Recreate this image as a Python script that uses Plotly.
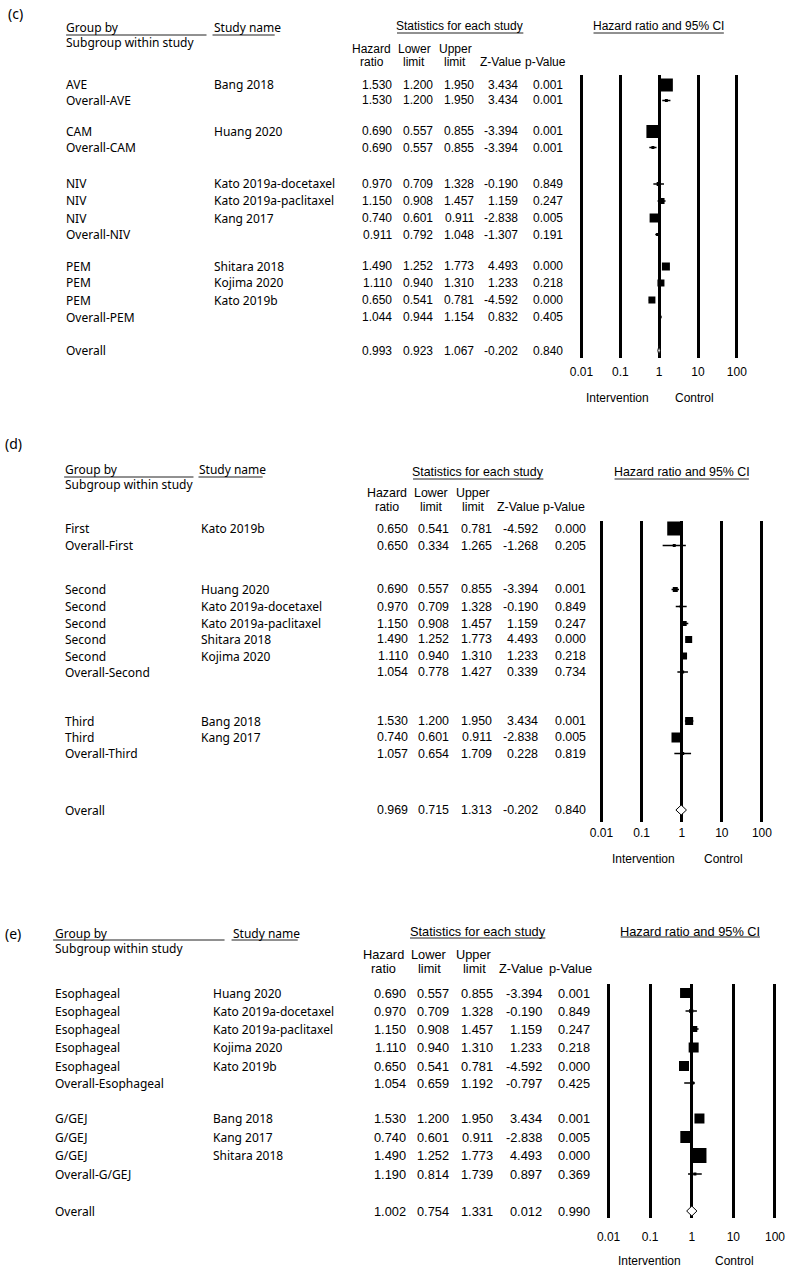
import plotly.graph_objects as go

W, H = 789, 1278

# ---------------- data ----------------
# Panel (c): grouped by agent
groups_c = ["AVE", "Overall-AVE", "CAM", "Overall-CAM", "NIV", "NIV", "NIV", "Overall-NIV",
            "PEM", "PEM", "PEM", "Overall-PEM", "Overall"]
studies_c = ["Bang 2018", "", "Huang 2020", "", "Kato 2019a-docetaxel", "Kato 2019a-paclitaxel",
             "Kang 2017", "", "Shitara 2018", "Kojima 2020", "Kato 2019b", "", ""]
hr_c = [1.530, 1.530, 0.690, 0.690, 0.970, 1.150, 0.740, 0.911, 1.490, 1.110, 0.650, 1.044, 0.993]
lo_c = [1.200, 1.200, 0.557, 0.557, 0.709, 0.908, 0.601, 0.792, 1.252, 0.940, 0.541, 0.944, 0.923]
hi_c = [1.950, 1.950, 0.855, 0.855, 1.328, 1.457, 0.911, 1.048, 1.773, 1.310, 0.781, 1.154, 1.067]
z_c = [3.434, 3.434, -3.394, -3.394, -0.190, 1.159, -2.838, -1.307, 4.493, 1.233, -4.592, 0.832, -0.202]
p_c = [0.001, 0.001, 0.001, 0.001, 0.849, 0.247, 0.005, 0.191, 0.000, 0.218, 0.000, 0.405, 0.840]
weight_c = [13, None, 13, None, 4, 6, 9, None, 8, 7, 7, None, None]

# Panel (d): grouped by line of therapy
groups_d = ["First", "Overall-First", "Second", "Second", "Second", "Second", "Second",
            "Overall-Second", "Third", "Third", "Overall-Third", "Overall"]
studies_d = ["Kato 2019b", "", "Huang 2020", "Kato 2019a-docetaxel", "Kato 2019a-paclitaxel",
             "Shitara 2018", "Kojima 2020", "", "Bang 2018", "Kang 2017", "", ""]
hr_d = [0.650, 0.650, 0.690, 0.970, 1.150, 1.490, 1.110, 1.054, 1.530, 0.740, 1.057, 0.969]
lo_d = [0.541, 0.334, 0.557, 0.709, 0.908, 1.252, 0.940, 0.778, 1.200, 0.601, 0.654, 0.715]
hi_d = [0.781, 1.265, 0.855, 1.328, 1.457, 1.773, 1.310, 1.427, 1.950, 0.911, 1.709, 1.313]
z_d = [-4.592, -1.268, -3.394, -0.190, 1.159, 4.493, 1.233, 0.339, 3.434, -2.838, 0.228, -0.202]
p_d = [0.000, 0.205, 0.001, 0.849, 0.247, 0.000, 0.218, 0.734, 0.001, 0.005, 0.819, 0.840]
weight_d = [14, None, 5, 3, 5, 7, 7, None, 8, 10, None, None]

# Panel (e): grouped by tumour site
groups_e = ["Esophageal", "Esophageal", "Esophageal", "Esophageal", "Esophageal",
            "Overall-Esophageal", "G/GEJ", "G/GEJ", "G/GEJ", "Overall-G/GEJ", "Overall"]
studies_e = ["Huang 2020", "Kato 2019a-docetaxel", "Kato 2019a-paclitaxel", "Kojima 2020",
             "Kato 2019b", "", "Bang 2018", "Kang 2017", "Shitara 2018", "", ""]
hr_e = [0.690, 0.970, 1.150, 1.110, 0.650, 1.054, 1.530, 0.740, 1.490, 1.190, 1.002]
lo_e = [0.557, 0.709, 0.908, 0.940, 0.541, 0.659, 1.200, 0.601, 1.252, 0.814, 0.754]
hi_e = [0.855, 1.328, 1.457, 1.310, 0.781, 1.192, 1.950, 0.911, 1.773, 1.739, 1.331]
z_e = [-3.394, -0.190, 1.159, 1.233, -4.592, -0.797, 3.434, -2.838, 4.493, 0.897, 0.012]
p_e = [0.001, 0.849, 0.247, 0.218, 0.000, 0.425, 0.001, 0.005, 0.000, 0.369, 0.990]
weight_e = [10, 4, 6, 10, 10, None, 10, 12, 15, None, None]

axis_ticks = [0.01, 0.1, 1, 10, 100]
axis_ticktext = ["0.01", "0.1", "1", "10", "100"]
col_head1 = ["Hazard", "Lower", "Upper", "", ""]
col_head2 = ["ratio", "limit", "limit", "Z-Value", "p-Value"]

# ---------------- layout constants (pixels) ----------------
panels = [
    dict(letter="(c)", groups=groups_c, studies=studies_c, hr=hr_c, lo=lo_c, hi=hi_c, z=z_c, p=p_c, w=weight_c,
         rows=[85, 100.5, 131.5, 147.5, 184, 201, 218, 234.5, 266.5, 283, 300, 317, 350.5],
         letter_xy=(7, 13), label_x=65, study_x=212, gb_y=28, sub_y=42, gb_line=(66, 206, 35),
         st_line=(212, 274, 35),
         col_right=[392, 433, 474, 518, 563], col_center=[371, 413, 454, 499, 544], h1=49, h2=62,
         stats=(458, 26, 396, 522, 33), citl=(657, 26, 592, 722, 33),
         forest=(580, 735), grid=(75, 358), tick_y=372, leg_y=398, leg_x=(616, 693), fs=12),
    dict(letter="(d)", groups=groups_d, studies=studies_d, hr=hr_d, lo=lo_d, hi=hi_d, z=z_d, p=p_d, w=weight_d,
         rows=[528.5, 545.5, 589.5, 606.5, 623.5, 639.5, 656, 672, 721, 737.5, 753.5, 810],
         letter_xy=(4, 443), label_x=64, study_x=200, gb_y=469.5, sub_y=484.5, gb_line=(64, 193, 477),
         st_line=(198, 262, 477),
         col_right=[408, 449, 492, 538, 586], col_center=[386, 430, 472, 517, 563], h1=493, h2=507,
         stats=(477, 472, 412, 542, 479), citl=(680, 472, 613, 747, 479),
         forest=(600, 760), grid=(521, 822), tick_y=833, leg_y=859, leg_x=(642, 722), fs=12.4),
    dict(letter="(e)", groups=groups_e, studies=studies_e, hr=hr_e, lo=lo_e, hi=hi_e, z=z_e, p=p_e, w=weight_e,
         rows=[993, 1011, 1029, 1047.5, 1066, 1083, 1118.5, 1137, 1155.5, 1174, 1211],
         letter_xy=(4, 933), label_x=54, study_x=211, gb_y=933, sub_y=948, gb_line=(53, 224, 940),
         st_line=(231, 297, 940),
         col_right=[406, 449, 493, 542, 589], col_center=[383, 428, 473, 520, 569], h1=954, h2=968,
         stats=(477, 931, 409, 544, 938), citl=(688, 931, 619, 758, 937),
         forest=(607, 773), grid=(984, 1218), tick_y=1237, leg_y=1261, leg_x=(648, 733), fs=12.8),
]

LABEL_FONT = "Noto Sans"
STAT_FONT = "Liberation Sans, Arial"
PAD = 0.1  # decades of padding beyond 0.01 / 100

# the page is photographed with the plot area occupying x = 8 .. 781
OX, PW = 8.0, 773.0

def px(x):
    return (x - OX) / PW

def py(y):
    return 1 - y / H

fig = go.Figure()
annotations = []
shapes = []
layout_axes = {}

def text(x, y, s, size, family, anchor="left"):
    annotations.append(dict(x=px(x), y=py(y), xref="paper", yref="paper", text=s, showarrow=False,
                            xanchor=anchor, yanchor="middle", borderpad=0,
                            font=dict(size=size, family=family, color="black")))

def hline(x0, x1, y, width=1):
    shapes.append(dict(type="line", xref="paper", yref="paper", x0=px(x0), x1=px(x1), y0=py(y), y1=py(y),
                       line=dict(color="#222", width=width)))

for i, P in enumerate(panels):
    n = i + 2
    xa, ya = f"xaxis{n}", f"yaxis{n}"
    xr, yr = f"x{n}", f"y{n}"
    fs = P["fs"]
    x0, x1 = P["forest"]
    dec = (x1 - x0) / 4.0
    top, bot = P["grid"]
    layout_axes[xa] = dict(type="log", range=[-2 - PAD, 2 + PAD],
                           domain=[px(x0 - PAD * dec), px(x1 + PAD * dec)],
                           anchor="free", position=py(P["tick_y"] - 9),
                           tickvals=axis_ticks, ticktext=axis_ticktext, ticks="",
                           showgrid=True, gridcolor="black", gridwidth=3, zeroline=False, showline=False,
                           tickfont=dict(size=12, family=STAT_FONT, color="black"), fixedrange=True)
    layout_axes[ya] = dict(range=[bot, top], domain=[py(bot), py(top)], anchor=xr, visible=False,
                           showgrid=False, zeroline=False, fixedrange=True)

    rows = P["rows"]
    cx, cy = [], []
    for k in range(len(rows)):
        if P["groups"][k] == "Overall":
            continue
        cx += [P["lo"][k], P["hi"][k], None]
        cy += [rows[k], rows[k], None]
    fig.add_trace(go.Scatter(x=cx, y=cy, xaxis=xr, yaxis=yr, mode="lines",
                             line=dict(color="black", width=1.6), hoverinfo="skip", cliponaxis=False))
    sx, sy, ss = [], [], []
    for k in range(len(rows)):
        if P["w"][k] is not None:
            sx.append(P["hr"][k]); sy.append(rows[k]); ss.append(P["w"][k])
    fig.add_trace(go.Scatter(x=sx, y=sy, xaxis=xr, yaxis=yr, mode="markers",
                             marker=dict(symbol="square", size=ss, color="black", opacity=1,
                                         line=dict(width=0)),
                             cliponaxis=False))
    gx, gy = [], []
    for k in range(len(rows)):
        if P["groups"][k].startswith("Overall-"):
            gx.append(P["hr"][k]); gy.append(rows[k])
    fig.add_trace(go.Scatter(x=gx, y=gy, xaxis=xr, yaxis=yr, mode="markers",
                             marker=dict(symbol="square", size=3, color="black", opacity=1), cliponaxis=False))
    k = P["groups"].index("Overall")
    yk = rows[k]
    fig.add_trace(go.Scatter(x=[P["lo"][k], P["hr"][k], P["hi"][k], P["hr"][k], P["lo"][k]],
                             y=[yk, yk - 5, yk, yk + 5, yk], xaxis=xr, yaxis=yr, mode="lines",
                             fill="toself", fillcolor="white", line=dict(color="black", width=1),
                             cliponaxis=False))

    lx, ly = P["letter_xy"]
    text(lx, ly, P["letter"], 14, LABEL_FONT)
    text(P["label_x"], P["gb_y"], "Group by", 12, LABEL_FONT)
    text(P["label_x"], P["sub_y"], "Subgroup within study", 12, LABEL_FONT)
    text(P["st_line"][0], P["gb_y"], "Study name", 12, LABEL_FONT)
    hline(*P["gb_line"])
    hline(*P["st_line"])
    sxc, sty, sl0, sl1, sly = P["stats"]
    text(sxc, sty, "Statistics for each study", fs, STAT_FONT, "center")
    hline(sl0, sl1, sly)
    cxc, cty, cl0, cl1, cly = P["citl"]
    text(cxc, cty, "Hazard ratio and 95% CI", fs, STAT_FONT, "center")
    hline(cl0, cl1, cly)
    for j in range(5):
        if col_head1[j]:
            text(P["col_center"][j], P["h1"], col_head1[j], fs, STAT_FONT, "center")
        text(P["col_center"][j], P["h2"], col_head2[j], fs, STAT_FONT, "center")
    for k, yk in enumerate(rows):
        text(P["label_x"], yk, P["groups"][k], 12, LABEL_FONT)
        if P["studies"][k]:
            text(P["study_x"], yk, P["studies"][k], 12, LABEL_FONT)
        vals = [P["hr"][k], P["lo"][k], P["hi"][k], P["z"][k], P["p"][k]]
        for j, v in enumerate(vals):
            text(P["col_right"][j], yk, f"{v:.3f}", fs, STAT_FONT, "right")
    text(P["leg_x"][0], P["leg_y"], "Intervention", 12, STAT_FONT, "center")
    text(P["leg_x"][1], P["leg_y"], "Control", 12, STAT_FONT, "center")

fig.update_layout(
    width=W, height=H, margin=dict(l=0, r=0, t=0, b=0),
    paper_bgcolor="white", plot_bgcolor="rgba(0,0,0,0)",
    showlegend=False, annotations=annotations, shapes=shapes,
    xaxis=dict(visible=False, domain=[0, 0.01]), yaxis=dict(visible=False, domain=[0, 0.01]),
    **layout_axes,
)

fig.write_html(
    "out.html",
    config={"displayModeBar": False, "responsive": False},
    post_script=("document.documentElement.style.margin='0';document.body.style.margin='0';"
                 "document.documentElement.style.overflow='hidden';document.body.style.overflow='hidden';"),
)
